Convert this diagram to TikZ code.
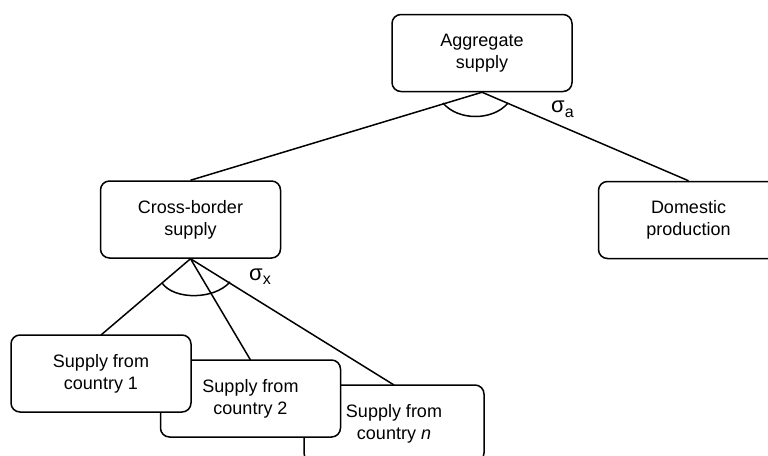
\documentclass[tikz,border=0pt]{standalone}
\usepackage{fontspec}
\setmainfont{Liberation Sans}
\begin{document}
\begin{tikzpicture}[x=1pt,y=-1pt,
  box/.style={draw=black,line width=1.5pt,rounded corners=9pt,fill=white,
    minimum width=180pt,minimum height=77pt,inner sep=0pt,align=center,
    font=\fontsize{18}{22}\selectfont},
  link/.style={draw=black,line width=1.5pt},
  sig/.style={inner sep=0pt,anchor=base west,font=\fontsize{22}{22}\selectfont}]
\useasboundingbox (0,0) rectangle (768,455);
\coordinate (topc) at (482,53);
\coordinate (cbc) at (190.5,219.5);
\coordinate (domc) at (688.5,220);
\coordinate (b1c) at (101,373.5);
\coordinate (b2c) at (250.5,398.5);
\coordinate (bnc) at (394,423.5);
% nodes (drawn back to front)
\node[box] (top) at (topc) {Aggregate\\supply};
\node[box] (cb) at (cbc) {Cross-border\\supply};
\node[box] (dom) at (domc) {Domestic\\production};
% connectors
\draw[link] (top.south) -- (cb.north);
\draw[link] (top.south) -- (dom.north);
\draw[link] (cb.south) -- (b1c |- 0,335);
\draw[link] (cb.south) -- (b2c |- 0,360);
\draw[link] (cb.south) -- (bnc |- 0,385);
\node[box] (bn) at (bnc) {Supply from\\country \textit{n}};
\node[box] (b2) at (b2c) {Supply from\\country 2};
\node[box] (b1) at (b1c) {Supply from\\country 1};
% elasticity arcs
\draw[link] (443,103) .. controls (458,121) and (493,121) .. (508,103);
\draw[link] (162,283) .. controls (174,300) and (214,300) .. (230,282);
% sigma labels
\node[sig] (siga) at (551,112) {σ\raisebox{-5pt}{\fontsize{16}{16}\selectfont a}};
\node[sig] (sigx) at (249,280) {σ\raisebox{-4pt}{\fontsize{16}{16}\selectfont x}};
\end{tikzpicture}
\end{document}
